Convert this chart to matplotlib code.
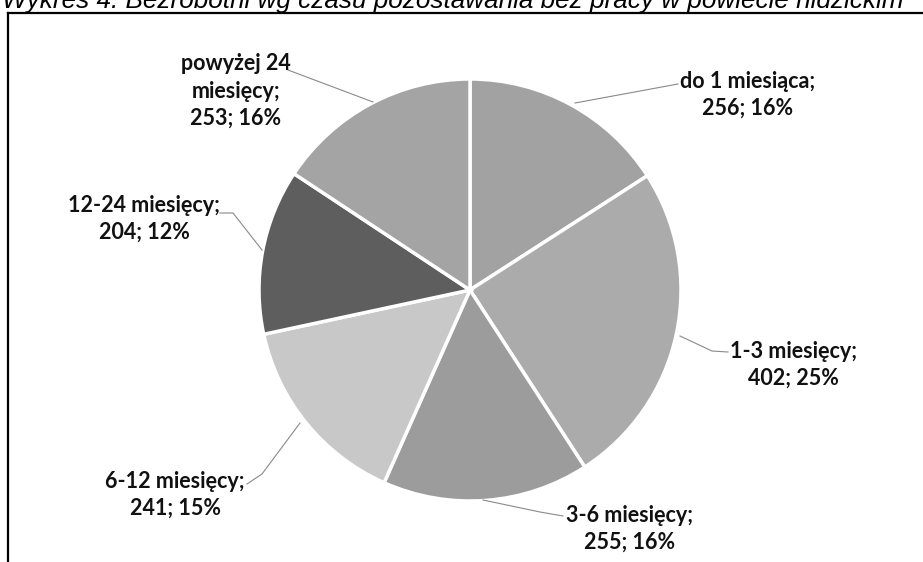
import matplotlib
matplotlib.use("Agg")
import matplotlib.pyplot as plt
from matplotlib.lines import Line2D

title = "Wykres 4. Bezrobotni wg czasu pozostawania bez pracy w powiecie nidzickim"
categories = ["do 1 miesiąca", "1-3 miesięcy", "3-6 miesięcy", "6-12 miesięcy",
              "12-24 miesięcy", "powyżej 24 miesięcy"]
values = [256, 402, 255, 241, 204, 253]
percents = [16, 25, 16, 15, 12, 16]
label_texts = ["do 1 miesiąca;\n256; 16%", "1-3 miesięcy;\n402; 25%",
               "3-6 miesięcy;\n255; 16%", "6-12 miesięcy;\n241; 15%",
               "12-24 miesięcy;\n204; 12%", "powyżej 24\nmiesięcy;\n253; 16%"]
colors = ["#a2a2a2", "#ababab", "#9c9c9c", "#c8c8c8", "#5e5e5e", "#a4a4a4"]

W, H = 923, 562
fig = plt.figure(figsize=(W / 100, H / 100), dpi=100)
ax = fig.add_axes([0, 0, 1, 1])

cx, cy, r = 470, H - 290, 211
ax.pie(values, colors=colors, startangle=90, counterclock=False,
       center=(cx, cy), radius=r, frame=True,
       wedgeprops=dict(edgecolor="white", linewidth=2.5))
ax.set_xlim(0, W)
ax.set_ylim(0, H)
ax.set_aspect("equal")
ax.axis("off")

# label positions (image pixel coords: center x, last-line baseline y)
label_pos = [(748, 115), (793, 385), (630, 549), (175, 515), (144, 239), (236, 125)]
leaders = [
    [(678, 84), (575, 103)],
    [(728, 352), (712, 351), (680, 336)],
    [(563, 516), (540, 512), (483, 500)],
    [(247, 484), (262, 474), (300, 423)],
    [(220, 213), (233, 213), (262, 250)],
    [(288, 70), (373, 102)],
]
font = ["Lato", "DejaVu Sans"]
for (x, y), t in zip(label_pos, label_texts):
    ax.text(x, H - y, t, ha="center", va="baseline", fontsize=15.5, fontweight="bold",
            family=font, linespacing=1.37, color="#111111")
for pts in leaders:
    xs = [p[0] for p in pts]
    ys = [H - p[1] for p in pts]
    ax.plot(xs, ys, color="#8a8a8a", linewidth=0.8)

# frame lines
fig.add_artist(Line2D([8 / W, 1], [1 - 13 / H, 1 - 13 / H], color="black", linewidth=1.6,
                      transform=fig.transFigure))
fig.add_artist(Line2D([8 / W, 8 / W], [0, 1 - 13 / H], color="black", linewidth=1.6,
                      transform=fig.transFigure))

fig.text(2 / W, 1 - 8 / H, title, ha="left", va="baseline", fontsize=18.8,
         style="italic", family=["Liberation Sans", "DejaVu Sans"], color="black")

fig.savefig("out.png", dpi=100, facecolor="white")
